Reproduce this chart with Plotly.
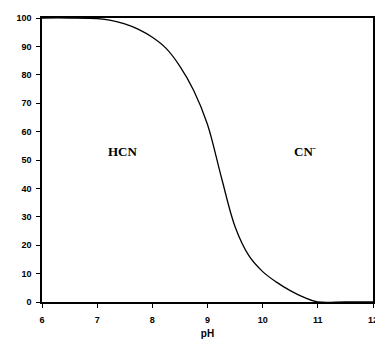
import plotly.graph_objects as go

ph = [6.0, 6.5, 7.0, 7.25, 7.5, 7.75, 8.0, 8.25, 8.5, 8.75, 9.0, 9.25, 9.5, 9.75, 10.0, 10.25, 10.5, 10.75, 11.0, 11.5, 12.0]
hcn_pct = [100, 100, 99.8, 99.2, 97.9, 96.0, 93.2, 89.3, 83.0, 74.5, 62.5, 44.0, 26.5, 16.3, 10.7, 7.0, 4.0, 1.6, 0, 0, 0]
x_ticks = [6, 7, 8, 9, 10, 11, 12]
y_ticks = [0, 10, 20, 30, 40, 50, 60, 70, 80, 90, 100]

fig = go.Figure()
fig.add_trace(go.Scatter(x=ph, y=hcn_pct, mode="lines",
                         line=dict(color="black", width=1.3, shape="spline", smoothing=1.0),
                         showlegend=False, hoverinfo="skip"))

fig.add_annotation(x=7.46, y=53, text="<b>HCN</b>", showarrow=False,
                   font=dict(family="Liberation Serif", size=13, color="black"))
fig.add_annotation(x=10.77, y=53, text="<b>CN<sup>-</sup></b>", showarrow=False,
                   font=dict(family="Liberation Serif", size=13, color="black"))

axis_common = dict(showgrid=False, zeroline=False, showline=True, linecolor="black",
                   linewidth=1.5, mirror=True, ticks="outside", ticklen=4,
                   tickcolor="black", tickwidth=1,
                   tickfont=dict(family="Liberation Sans", size=9, color="black", weight="bold"))
fig.update_xaxes(range=[6, 12], tickvals=x_ticks, ticktext=[str(v) for v in x_ticks],
                 ticklabelstandoff=4,
                 title=dict(text="<b>pH</b>", font=dict(family="Liberation Sans", size=10, color="black"), standoff=6),
                 **axis_common)
fig.update_yaxes(range=[0, 100], tickvals=y_ticks, ticktext=[str(v) for v in y_ticks],
                 ticklabelstandoff=3,
                 **axis_common)
fig.update_layout(width=375, height=341, margin=dict(l=34, r=5, t=7, b=47),
                  plot_bgcolor="white", paper_bgcolor="white")
fig.write_html("out.html")
